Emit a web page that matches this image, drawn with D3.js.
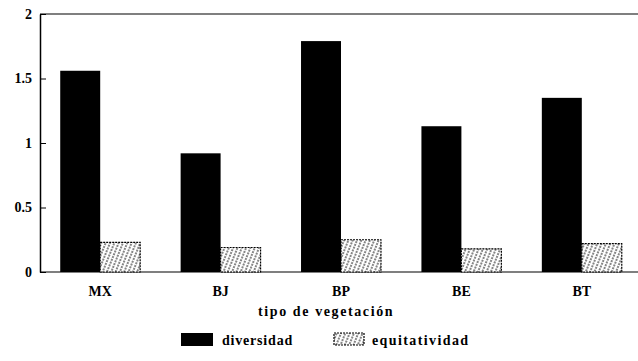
<!DOCTYPE html>
<html lang="es">
<head>
<meta charset="utf-8">
<script src="https://d3js.org/d3.v7.min.js"></script>
<style>
  body { margin: 0; background: #fff; }
</style>
</head>
<body>
<script>
  // data
  const categories = ["MX", "BJ", "BP", "BE", "BT"];
  const diversidad = [1.56, 0.92, 1.79, 1.13, 1.35];
  const equitatividad = [0.23, 0.19, 0.25, 0.18, 0.22];
  const yTicks = [0, 0.5, 1, 1.5, 2];
  const yTickLabels = ["0", "0.5", "1", "1.5", "2"];

  const width = 638, height = 361;
  const plotLeft = 40, plotRight = 642, plotTop = 14, plotBottom = 272;
  const font = "'Liberation Serif', 'DejaVu Serif', serif";

  const svg = d3.select("body").append("svg")
    .attr("width", width).attr("height", height);

  // hatch pattern for equitatividad
  const defs = svg.append("defs");
  const pat = defs.append("pattern")
    .attr("id", "hatch")
    .attr("patternUnits", "userSpaceOnUse")
    .attr("width", 4).attr("height", 6)
    .attr("patternTransform", "rotate(22)");
  pat.append("rect").attr("width", 4).attr("height", 6).attr("fill", "#fff");
  pat.append("line")
    .attr("x1", 1).attr("y1", 0).attr("x2", 1).attr("y2", 6)
    .attr("stroke", "#333").attr("stroke-width", 1.2)
    .attr("stroke-dasharray", "2,1");

  const x = d3.scaleBand().domain(categories).range([plotLeft, plotRight])
    .paddingInner(0.336).paddingOuter(0.168);
  const y = d3.scaleLinear().domain([0, 2]).range([plotBottom, plotTop]);
  const bw = x.bandwidth() / 2;

  // frame: top line, base line
  svg.append("line").attr("x1", plotLeft).attr("x2", width).attr("y1", plotTop).attr("y2", plotTop)
    .attr("stroke", "#000").attr("stroke-width", 1.2);
  svg.append("line").attr("x1", width).attr("x2", plotLeft).attr("y1", plotBottom).attr("y2", plotBottom)
    .attr("stroke", "#000").attr("stroke-width", 1.2);

  const yAxis = svg.append("g")
    .attr("transform", "translate(" + plotLeft + ",0)")
    .call(d3.axisRight(y).tickValues(yTicks).tickSize(6).tickSizeOuter(0)
      .tickFormat((d, i) => yTickLabels[i]));
  yAxis.select(".domain").attr("stroke-width", 1.5);
  yAxis.selectAll("text")
    .attr("x", -8).attr("text-anchor", "end")
    .style("font-family", font).style("font-weight", "bold")
    .style("font-size", "14px").attr("fill", "#000");

  // bars
  svg.append("g").selectAll("rect")
    .data(categories).enter().append("rect")
    .attr("x", d => x(d))
    .attr("y", (d, i) => y(diversidad[i]))
    .attr("width", bw)
    .attr("height", (d, i) => y(0) - y(diversidad[i]))
    .attr("fill", "#000");

  svg.append("g").selectAll("rect")
    .data(categories).enter().append("rect")
    .attr("x", d => x(d) + bw)
    .attr("y", (d, i) => y(equitatividad[i]))
    .attr("width", bw)
    .attr("height", (d, i) => y(0) - y(equitatividad[i]))
    .attr("fill", "url(#hatch)")
    .attr("stroke", "#000").attr("stroke-width", 1.2)
    .attr("stroke-dasharray", "2,1");

  // category labels
  svg.append("g").selectAll("text")
    .data(categories).enter().append("text")
    .attr("x", d => x(d) + bw)
    .attr("y", 296)
    .attr("text-anchor", "middle")
    .style("font-family", font).style("font-weight", "bold")
    .style("font-size", "14px")
    .text(d => d);

  svg.append("text")
    .attr("x", 258).attr("y", 316)
    .style("font-family", font).style("font-weight", "bold")
    .style("font-size", "14px").style("letter-spacing", "1.6px")
    .text("tipo de vegetación");

  // legend
  const legend = svg.append("g");
  legend.append("rect").attr("x", 181).attr("y", 333).attr("width", 32).attr("height", 13)
    .attr("fill", "#000");
  legend.append("text").attr("x", 222).attr("y", 345)
    .style("font-family", font).style("font-weight", "bold")
    .style("font-size", "14px").style("letter-spacing", "0.8px").text("diversidad");
  legend.append("rect").attr("x", 334).attr("y", 333).attr("width", 30).attr("height", 12)
    .attr("fill", "url(#hatch)").attr("stroke", "#000").attr("stroke-width", 1.2)
    .attr("stroke-dasharray", "2,1");
  legend.append("text").attr("x", 372).attr("y", 345)
    .style("font-family", font).style("font-weight", "bold")
    .style("font-size", "14px").style("letter-spacing", "1.4px").text("equitatividad");
</script>
</body>
</html>
